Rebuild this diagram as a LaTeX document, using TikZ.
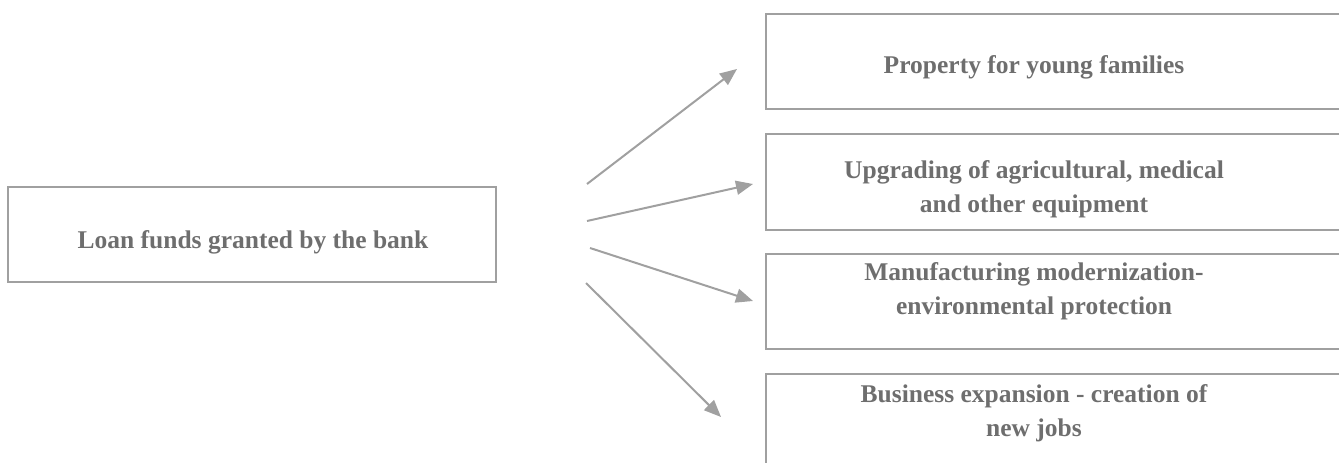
\documentclass[tikz,border=0pt]{standalone}
\usepackage{fontspec}
\setmainfont{Liberation Serif}
\usetikzlibrary{arrows.meta}
\definecolor{linegray}{HTML}{A0A0A0}
\definecolor{textgray}{HTML}{6E6E6E}
\tikzset{
  boxline/.style={draw=linegray, line width=2pt, fill=none},
  boxtext/.style={text=textgray, font=\bfseries\fontsize{25.5}{34}\selectfont, align=center, inner sep=0pt},
  flow/.style={draw=linegray, line width=2pt, -{Triangle[length=17pt,width=14pt]}},
}
\begin{document}
\begin{tikzpicture}[x=1pt,y=-1pt]
\useasboundingbox (0,0) rectangle (1339,463);
\clip (0,0) rectangle (1339,463);
% boxes
\node[boxline, anchor=north west, minimum width=488pt, minimum height=95pt] (src) at (7,186) {};
\node[boxtext] (srct) at (253,242) {Loan funds granted by the bank};
\node[boxline, anchor=north west, minimum width=620pt, minimum height=95pt] (b1) at (765,13) {};
\node[boxline, anchor=north west, minimum width=620pt, minimum height=96pt] (b2) at (765,133) {};
\node[boxline, anchor=north west, minimum width=620pt, minimum height=95pt] (b3) at (765,253) {};
\node[boxline, anchor=north west, minimum width=620pt, minimum height=120pt] (b4) at (765,373) {};
\node[boxtext] (t1) at (1034,67) {Property for young families};
\node[boxtext] (t2) at (1034,189) {Upgrading of agricultural, medical\\and other equipment};
\node[boxtext] (t3) at (1034,291) {Manufacturing modernization-\\environmental protection};
\node[boxtext] (t4) at (1034,413) {Business expansion - creation of\\new jobs};
% arrow ends
\coordinate (s1) at (587,184);
\coordinate (e1) at (737,69);
\coordinate (s2) at (587,221);
\coordinate (e2) at (753,184);
\coordinate (s3) at (590,248);
\coordinate (e3) at (753,301);
\coordinate (s4) at (586,283);
\coordinate (e4) at (721,417);
\draw[flow] (s1) -- (e1);
\draw[flow] (s2) -- (e2);
\draw[flow] (s3) -- (e3);
\draw[flow] (s4) -- (e4);
\end{tikzpicture}
\end{document}
